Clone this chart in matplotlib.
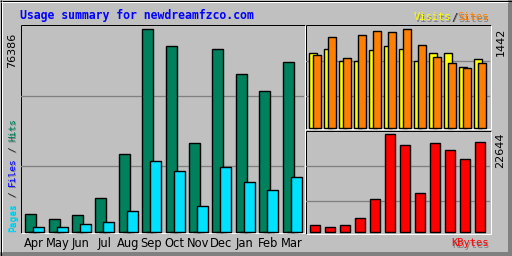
import matplotlib
matplotlib.use("Agg")
import matplotlib.pyplot as plt
import numpy as np
from matplotlib.patches import Rectangle

months = ["Apr", "May", "Jun", "Jul", "Aug", "Sep", "Oct", "Nov", "Dec", "Jan", "Feb", "Mar"]
hits = [6670, 4790, 6290, 12700, 29280, 76386, 69970, 33420, 68840, 59420, 53020, 63940]
files = [0, 0, 0, 0, 0, 0, 0, 0, 0, 0, 0, 0]
pages = [1770, 1770, 2900, 3650, 7800, 26640, 22870, 9680, 24380, 18730, 15710, 20610]
visits = [1089, 1148, 972, 972, 1133, 1192, 1148, 972, 1089, 1089, 884, 1001]
sites = [1060, 1324, 1016, 1353, 1412, 1398, 1442, 1207, 1031, 942, 869, 942]
kbytes = [1687, 1156, 1687, 3235, 7626, 22644, 20105, 9012, 20567, 18950, 16870, 20798]
title = "Usage summary for newdreamfzco.com"

BG = "#C0C0C0"
DK = "#808080"
C_HITS, C_FILES, C_PAGES = "#00805C", "#0000FF", "#00E0FF"
C_VIS, C_SITES, C_KB = "#FFFF00", "#FF8000", "#FF0000"
PX = 0.72  # one pixel in points

W, H = 512, 256
fig = plt.figure(figsize=(W / 100, H / 100), dpi=100)
fig.patch.set_facecolor(BG)

bg = fig.add_axes([0, 0, 1, 1])
bg.set_xlim(0, W)
bg.set_ylim(H, 0)
bg.axis("off")

def hline(x0, x1, y, c):
    bg.plot([x0, x1], [y, y], color=c, lw=PX, solid_capstyle="butt")

def vline(x, y0, y1, c):
    bg.plot([x, x], [y0, y1], color=c, lw=PX, solid_capstyle="butt")

# outer bevel frame
bg.add_patch(Rectangle((W - 4, 0), 4, H, color=DK, lw=0))
bg.add_patch(Rectangle((0, H - 4), W, 4, color=DK, lw=0))
hline(0, W, 0.5, "black"); hline(0, W, H - 0.5, "black")
vline(0.5, 0, H, "black"); vline(W - 0.5, 0, H, "black")
hline(1, W - 4, 1.5, "white"); vline(1.5, 1, H - 4, "white")

def sunken(x0, y0, x1, y1):
    hline(x0, x1, y0, "black"); vline(x0, y0, y1, "black")
    hline(x0, x1, y1, "white"); vline(x1, y0, y1, "white")

sunken(20.5, 24.5, 304.5, 233)
sunken(305.5, 24.5, 490.5, 128.8)
sunken(305.5, 130.5, 490.5, 234)

def pax(x0, y0, x1, y1):
    a = fig.add_axes([x0 / W, 1 - y1 / H, (x1 - x0) / W, (y1 - y0) / H])
    a.set_facecolor("none")
    for s in a.spines.values():
        s.set_visible(False)
    return a

def grid(a, fracs):
    for f in fracs:
        a.axhline(f * a.get_ylim()[1], color=DK, lw=PX * 1.3, zorder=0)

idx = np.arange(len(months))

# main panel
ax = pax(21, 25.5, 304, 232)
ax.set_xlim(-0.18, 11.91)
ax.set_ylim(0, 76386 * (232 - 25.5) / 202.7)
grid(ax, [0.322, 0.658])
bw = 11 / 23.4
kw = dict(align="edge", edgecolor="black", linewidth=PX * 1.4, clip_on=False)
ax.bar(idx, hits, bw, color=C_HITS, zorder=2, **kw)
ax.bar(idx + 4 / 23.4, files, bw, color=C_FILES, zorder=3, **kw)
ax.bar(idx + 8 / 23.4, pages, bw, color=C_PAGES, zorder=4, **kw)
ax.set_yticks([])
ax.set_xticks(idx + 0.38, months)
ax.tick_params(axis="x", length=0, pad=3.5)
for t in ax.get_xticklabels():
    t.set_fontfamily(["Liberation Sans Narrow", "DejaVu Sans"])
    t.set_fontsize(8.3)

# visits / sites panel
ax2 = pax(306, 25.5, 490, 127.5)
ax2.set_xlim(-0.22, 12.05)
ax2.set_ylim(0, 1442 * 102 / 98.2)
grid(ax2, [0.312, 0.655])
bw2 = 7.5 / 15
ax2.bar(idx, visits, bw2, color=C_VIS, zorder=2, **kw)
ax2.bar(idx + 4 / 15, sites, bw2, color=C_SITES, zorder=3, **kw)
ax2.set_xticks([]); ax2.set_yticks([])

# kbytes panel
ax3 = pax(306, 131, 490, 232.3)
ax3.set_xlim(-0.267, 12.0)
ax3.set_ylim(0, 22644 * 101.3 / 98)
grid(ax3, [0.31, 0.653])
ax3.bar(idx, kbytes, 10 / 15, color=C_KB, zorder=2, **kw)
ax3.set_xticks([]); ax3.set_yticks([])

# texts
NARROW = ["Liberation Sans Narrow", "DejaVu Sans"]
MONO = "DejaVu Sans Mono"
bg.text(20, 15.5, title, color="#0000FF", fontfamily=MONO, fontweight="bold",
        fontsize=8.3, ha="left", va="center")

bg.text(12, 33, f"{max(hits)}", rotation=90, ha="center", va="top",
        fontfamily=NARROW, fontsize=8)
bg.text(500.5, 28, f"{max(sites)}", rotation=90, ha="center", va="top",
        fontfamily=NARROW, fontsize=8)
bg.text(500.5, 132, f"{max(kbytes)}", rotation=90, ha="center", va="top",
        fontfamily=NARROW, fontsize=8)

def shadow_text(x, y, s, c, size, rot=0, ha="left", va="center"):
    if rot == 0:
        bg.text(x + 1, y + 1, s, color=DK, fontfamily=MONO, fontsize=size, ha=ha, va=va)
    else:
        bg.text(x + 1, y + 1, s, color=DK, fontfamily=MONO, fontsize=size, ha=ha, va=va,
                rotation=rot)
    bg.text(x, y, s, color=c, fontfamily=MONO, fontsize=size, ha=ha, va=va, rotation=rot)

# Visits / Sites legend
fs = 7.5
cw = fs / 72 * 100 * 0.602
x0 = 489 - 12 * cw
for k, (s, c) in enumerate([("Visits", C_VIS), ("/", "#202020"), ("Sites", C_SITES)]):
    off = [0, 6, 7][k]
    shadow_text(x0 + off * cw, 17.5, s, c, fs)

# KBytes legend
shadow_text(489 - 6 * cw, 243.5, "KBytes", C_KB, fs)

# Pages / Files / Hits vertical legend
fsv = 6.8
cwv = fsv / 72 * 100 * 0.602
ybot = 231.5
for s, c, off in [("Pages", C_PAGES, 0), ("/", "#202020", 6), ("Files", C_FILES, 8),
                  ("/", "#202020", 14), ("Hits", C_HITS, 16)]:
    shadow_text(12.5, ybot - off * cwv, s, c, fsv, rot=90, ha="center", va="bottom")

fig.savefig("out.png", dpi=100, facecolor=BG)
